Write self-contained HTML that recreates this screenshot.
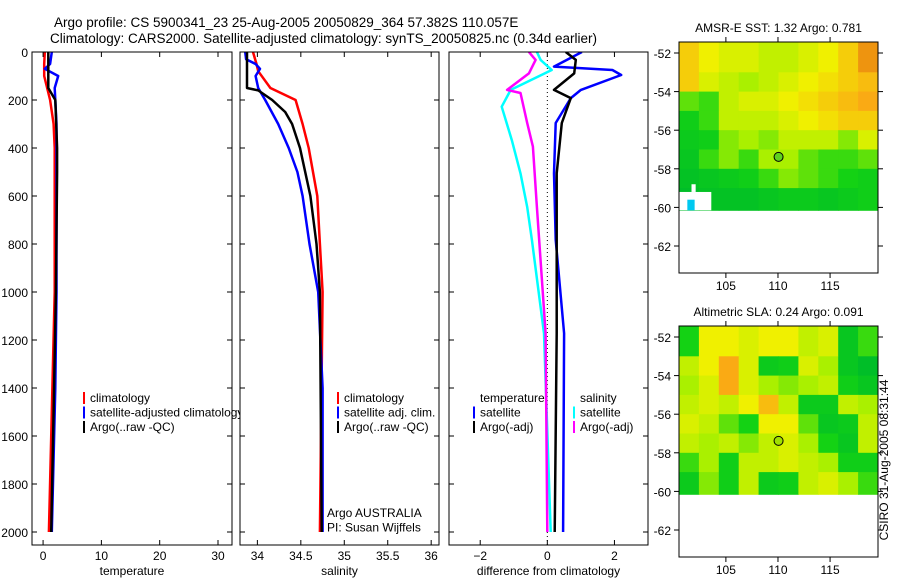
<!DOCTYPE html>
<html><head><meta charset="utf-8"><style>
html,body{margin:0;padding:0;background:#fff;}
svg{display:block;font-family:"Liberation Sans",sans-serif;}
text{fill:#000;}
</style></head><body>
<svg id="fig" width="900" height="580" viewBox="0 0 900 580">
<text x="54" y="27" font-size="13.5">Argo profile: CS 5900341_23 25-Aug-2005 20050829_364 57.382S 110.057E</text>
<text x="50" y="43" font-size="13.5">Climatology: CARS2000. Satellite-adjusted climatology: synTS_20050825.nc (0.34d earlier)</text>
<text x="885" y="460" font-size="12" transform="rotate(-90 885 460)" text-anchor="middle" dominant-baseline="middle">CSIRO 31-Aug-2005 08:31:44</text>
</svg>
<script>
// ---------- data ----------
const depthTicks=[0,200,400,600,800,1000,1200,1400,1600,1800,2000];
const tempTicks=[0,10,20,30];
const salTicks=[34,34.5,35,35.5,36];
const difTicks=[-2,0,2];
const tClimD=[0,50,100,200,300,400,1000,1500,2000];
const tClimV=[0.3,0.2,0.2,1.2,1.8,2.0,2.0,1.5,1.0];
const tSatD=[0,50,70,100,150,300,1000,1400,2000];
const tSatV=[1.5,1.2,0.3,2.6,2.0,2.3,2.3,2.1,1.5];
const tArgoD=[0,150,200,400,500,1000,1500,2000];
const tArgoV=[0.9,0.9,2.1,2.4,2.4,2.2,1.8,1.4];
const sClimD=[0,50,80,150,200,300,400,600,800,1000,2000];
const sClimV=[33.95,33.99,34.01,34.15,34.44,34.52,34.59,34.69,34.72,34.75,34.72];
const sSatD=[0,30,50,70,100,150,200,300,400,500,600,800,1000,1400,2000];
const sSatV=[33.86,33.87,33.98,34.03,33.98,34.01,34.09,34.24,34.36,34.46,34.52,34.60,34.70,34.75,34.75];
const sArgoD=[0,150,160,200,250,300,400,600,800,1000,2000];
const sArgoV=[33.88,33.88,34.01,34.17,34.32,34.40,34.49,34.61,34.68,34.72,34.74];
const dTSatD=[0,61,75,96,158,192,296,506,783,1172,2000];
const dTSatV=[1.03,0.2,1.94,2.2,1.0,0.7,0.25,0.2,0.25,0.5,0.47];
const dTArgoD=[0,33,89,158,192,296,506,1172,2000];
const dTArgoV=[0.55,0.85,0.8,0.2,0.7,0.43,0.28,0.28,0.22];
const dSSatD=[0,33,75,158,228,367,506,646,783,1172,2000];
const dSSatV=[-0.31,-0.2,0.13,-1.09,-1.36,-1.06,-0.8,-0.6,-0.46,-0.1,0.1];
const dSArgoD=[0,33,89,158,171,296,394,646,1172,2000];
const dSArgoV=[-0.55,-0.35,-0.55,-1.2,-0.8,-0.6,-0.43,-0.31,-0.05,0.0];
const latTicks=[-52,-54,-56,-58,-60,-62];
const lonTicks=[105,110,115];
const sstGrid=[
[0.7,0.6,0.55,0.55,0.5,0.5,0.55,0.6,0.7,0.85],
[0.7,0.55,0.5,0.45,0.5,0.55,0.6,0.65,0.7,0.75],
[0.35,0.3,0.5,0.55,0.55,0.6,0.65,0.7,0.75,0.8],
[0.2,0.3,0.5,0.5,0.5,0.55,0.6,0.65,0.7,0.7],
[0.15,0.2,0.4,0.45,0.4,0.5,0.5,0.5,0.4,0.55],
[0.1,0.3,0.4,0.3,0.45,0.45,0.35,0.3,0.3,0.35],
[0.05,0.1,0.15,0.2,0.3,0.4,0.35,0.3,0.25,0.2],
[0.0,0.05,0.05,0.05,0.1,0.15,0.15,0.1,0.15,0.2]];
const slaGrid=[
[0.25,0.6,0.6,0.55,0.6,0.6,0.5,0.55,0.1,0.3],
[0.5,0.6,0.8,0.55,0.15,0.2,0.55,0.45,0.1,0.0],
[0.45,0.55,0.8,0.55,0.45,0.4,0.45,0.5,0.2,0.1],
[0.5,0.55,0.5,0.6,0.75,0.5,0.15,0.15,0.5,0.45],
[0.55,0.5,0.35,0.25,0.6,0.6,0.35,0.1,0.15,0.5],
[0.5,0.45,0.5,0.4,0.5,0.55,0.45,0.25,0.1,0.5],
[0.3,0.45,0.2,0.5,0.5,0.55,0.5,0.45,0.2,0.2],
[0.15,0.4,0.2,0.5,0.15,0.2,0.5,0.55,0.45,0.3]];
const gridLon0=100.5, gridLonStep=1.91, gridLat0=-52, gridLatStep=-1;
const argoLon=110.057, argoLat=-57.382;

// ---------- helpers ----------
const NS='http://www.w3.org/2000/svg';
const svg=document.getElementById('fig');
function mk(tag,attrs,parent){const e=document.createElementNS(NS,tag);for(const k in attrs)e.setAttribute(k,attrs[k]);(parent||svg).appendChild(e);return e;}
const TOP=52,BOT=545;
const yD=d=>TOP+0.24*d;

function panel(name,x0,x1,vmin,vmax,ticks,label,fmt){
  const g=mk('g',{});
  
  
  mk('rect',{x:x0,y:TOP,width:x1-x0,height:BOT-TOP,fill:'#fff',stroke:'none'},g);
  const xs=v=>x0+(v-vmin)/(vmax-vmin)*(x1-x0);
  const cid='clip-'+name;
  const cp=mk('clipPath',{id:cid},g);mk('rect',{x:x0,y:TOP,width:x1-x0,height:BOT-TOP},cp);
  const plot=mk('g',{'clip-path':'url(#'+cid+')'},g);
  return {g,plot,xs,x0,x1,finish(){
    mk('rect',{x:x0,y:TOP,width:x1-x0,height:BOT-TOP,fill:'none',stroke:'#000','stroke-width':1},g);
    depthTicks.forEach(d=>{const y=yD(d);mk('line',{x1:x0,x2:x0+5,y1:y,y2:y,stroke:'#000'},g);mk('line',{x1:x1-5,x2:x1,y1:y,y2:y,stroke:'#000'},g);});
    ticks.forEach(v=>{const x=xs(v);mk('line',{x1:x,x2:x,y1:TOP,y2:TOP+5,stroke:'#000'},g);mk('line',{x1:x,x2:x,y1:BOT-5,y2:BOT,stroke:'#000'},g);
      const t=mk('text',{x:x,y:BOT+15,'font-size':12,'text-anchor':'middle'},g);t.textContent=fmt(v);
      
      });
    const t=mk('text',{x:(x0+x1)/2,y:BOT+30,'font-size':12,'text-anchor':'middle'},g);t.textContent=label;
    
    
  }};
}
function profile(p,D,V,color,name,w){
  const pts=[];for(let i=0;i<D.length;i++){pts.push(p.xs(V[i]).toFixed(1)+','+yD(D[i]).toFixed(1));}
  const pl=mk('polyline',{points:pts.join(' '),fill:'none',stroke:color,'stroke-width':w||2.5,'stroke-linejoin':'round'},p.plot);
  
  
}
function legend(p,x,y,items){
  items.forEach((it,i)=>{const yy=y+i*14.5;
    if(it.c)mk('rect',{x:x,y:yy-10,width:2,height:12,fill:it.c},p.g);
    const t=mk('text',{x:x+7,y:yy,'font-size':12},p.g);t.textContent=it.t;
    
    });
}

depthTicks.forEach(d=>{const t=mk('text',{x:28,y:yD(d)+5,'font-size':12,'text-anchor':'end'});t.textContent=d;
  
  });

const p1=panel('temperature-panel',32,232,-1.9,32.4,tempTicks,'temperature',v=>v);
profile(p1,tClimD,tClimV,'#f00','temp-climatology-line');
profile(p1,tSatD,tSatV,'#00f','temp-satellite-line');
profile(p1,tArgoD,tArgoV,'#000','temp-argo-line');
legend(p1,83,402,[{c:'#f00',t:'climatology'},{c:'#00f',t:'satellite-adjusted climatology'},{c:'#000',t:'Argo(..raw -QC)'}]);
p1.finish();
const p2=panel('salinity-panel',240,439,33.80,36.09,salTicks,'salinity',v=>v);
profile(p2,sClimD,sClimV,'#f00','sal-climatology-line');
profile(p2,sSatD,sSatV,'#00f','sal-satellite-line');
profile(p2,sArgoD,sArgoV,'#000','sal-argo-line');
legend(p2,337,402,[{c:'#f00',t:'climatology'},{c:'#00f',t:'satellite adj. clim.'},{c:'#000',t:'Argo(..raw -QC)'}]);
legend(p2,320,517,[{t:'Argo AUSTRALIA'},{t:'PI: Susan Wijffels'}]);
p2.finish();
const p3=panel('difference-panel',449,648,-2.93,3.0,difTicks,'difference from climatology',v=>v===0?'0':(v<0?'\u2212'+(-v):v));
const z=mk('line',{x1:p3.xs(0),x2:p3.xs(0),y1:TOP,y2:BOT,stroke:'#000','stroke-dasharray':'1,3'},p3.plot);


profile(p3,dSSatD,dSSatV,'#0ff','sal-diff-satellite-line');
profile(p3,dSArgoD,dSArgoV,'#f0f','sal-diff-argo-line');
profile(p3,dTSatD,dTSatV,'#00f','temp-diff-satellite-line');
profile(p3,dTArgoD,dTArgoV,'#000','temp-diff-argo-line');
legend(p3,473,402,[{t:'temperature'},{c:'#00f',t:'satellite'},{c:'#000',t:'Argo(-adj)'}]);
legend(p3,573,402,[{t:'salinity'},{c:'#0ff',t:'satellite'},{c:'#f0f',t:'Argo(-adj)'}]);
p3.finish();

function colr(v){
  const stops=[[0,[0,190,40]],[0.25,[20,210,20]],[0.45,[170,240,0]],[0.6,[240,240,0]],[0.8,[250,170,20]],[1,[200,80,0]]];
  for(let i=1;i<stops.length;i++){if(v<=stops[i][0]){const a=stops[i-1],b=stops[i];const f=(v-a[0])/(b[0]-a[0]);
    return 'rgb('+a[1].map((c,j)=>Math.round(c+(b[1][j]-c)*f)).join(',')+')';}}
  return 'rgb(200,80,0)';
}
function map(name,top,title,grid,sst){
  const L=679,R=878,T=top,B=top+231;
  const lonMin=100.5,lonMax=119.6;
  const xs=lo=>L+(lo-lonMin)/(lonMax-lonMin)*(R-L);
  const ys=la=>(T+11)+(-52-la)*19.3;
  const g=mk('g',{});
  
  
  const cid='clip-'+name;const cp=mk('clipPath',{id:cid},g);mk('rect',{x:L,y:T,width:R-L,height:B-T},cp);
  const pg=mk('g',{'clip-path':'url(#'+cid+')'},g);
  for(let r=0;r<grid.length;r++)for(let c=0;c<grid[r].length;c++){
    const la0=gridLat0+r*gridLatStep+(r===0?1:0), la1=gridLat0+(r+1)*gridLatStep-(r===grid.length-1?0.15:0);
    const lo0=gridLon0+c*gridLonStep-(c===0?1:0), lo1=gridLon0+(c+1)*gridLonStep+(c===grid[r].length-1?1:0);
    const cell=mk('rect',{x:xs(lo0),y:ys(la0),width:xs(lo1)-xs(lo0)+0.5,height:ys(la1)-ys(la0)+0.5,fill:colr(grid[r][c])},pg);
    
    
  }
  if(sst){
    mk('rect',{x:xs(100.5),y:ys(-59.2),width:xs(103.6)-xs(100.5),height:ys(-60.15)-ys(-59.2),fill:'#fff'},pg);
    mk('rect',{x:xs(101.3),y:ys(-59.6),width:xs(102)-xs(101.3),height:ys(-60.15)-ys(-59.6),fill:'#00c8f0'},pg);
    mk('rect',{x:xs(101.7),y:ys(-58.8),width:xs(102.1)-xs(101.7),height:ys(-59.2)-ys(-58.8),fill:'#fff'},pg);
  }
  const c=mk('circle',{cx:xs(argoLon),cy:ys(argoLat),r:4.5,fill:sst?'#60d020':'#a0e000',stroke:'#000','stroke-width':1},pg);
  
  
  mk('rect',{x:L,y:T,width:R-L,height:B-T,fill:'none',stroke:'#000'},g);
  latTicks.forEach(la=>{const y=ys(la);mk('line',{x1:L-5,x2:L,y1:y,y2:y,stroke:'#000'},g);mk('line',{x1:R,x2:R+5,y1:y,y2:y,stroke:'#000'},g);
    const t=mk('text',{x:L-8,y:y+5,'font-size':12,'text-anchor':'end'},g);t.textContent='-'+(-la);
    
    });
  lonTicks.forEach(lo=>{const x=xs(lo);mk('line',{x1:x,x2:x,y1:T-5,y2:T,stroke:'#000'},g);mk('line',{x1:x,x2:x,y1:B,y2:B+5,stroke:'#000'},g);
    const t=mk('text',{x:x,y:B+17,'font-size':12,'text-anchor':'middle'},g);t.textContent=lo;
    
    });
  const t=mk('text',{x:(L+R)/2,y:T-10,'font-size':12,'text-anchor':'middle'},g);t.textContent=title;
  
  
}
map('sst-map',42,'AMSR-E SST: 1.32 Argo: 0.781',sstGrid,true);
map('sla-map',326,'Altimetric SLA: 0.24 Argo: 0.091',slaGrid,false);
</script>
</body></html>
